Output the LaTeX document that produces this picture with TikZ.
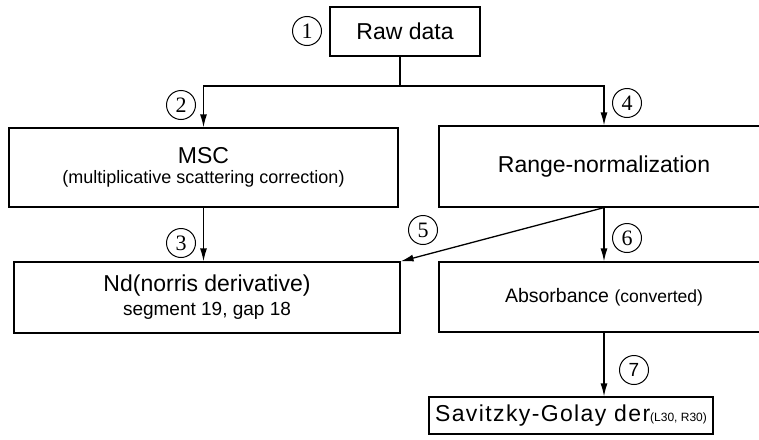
\documentclass[tikz,border=0pt]{standalone}
\usepackage{fontspec}
\setmainfont{Liberation Sans}
\newfontfamily\numfont{Liberation Serif}
\usetikzlibrary{arrows.meta}
\newcommand{\fsz}[1]{\fontsize{#1}{#1}\selectfont}
\tikzset{
  box/.style={draw,line width=1.2pt,inner sep=0pt,align=center},
  num/.style={draw,circle,line width=1pt,minimum size=29pt,inner sep=0pt,
    font=\numfont\fsz{22}},
  arr/.style={line width=1.3pt,-{Latex[length=13pt,width=7pt]}},
}
\begin{document}
\begin{tikzpicture}[x=1pt,y=-1pt]
\path[use as bounding box,clip] (0,0) rectangle (759,439);
% boxes
\node[box,minimum width=150pt,minimum height=49pt] (raw) at (405,31.5)
  {\fsz{23}Raw data};
\node[box,minimum width=389pt,minimum height=79pt] (msc) at (203.5,167.5)
  {\fsz{23}MSC\\[6pt]\fsz{18}(multiplicative scattering correction)};
\node[box,minimum width=330pt,minimum height=81pt] (rng) at (604,166.5)
  {\fsz{23}Range-normalization};
\node[box,minimum width=386pt,minimum height=71pt] (nd) at (207,297.5)
  {\fsz{23}Nd(norris derivative)\\[5pt]\fsz{19}segment 19, gap 18};
\node[box,minimum width=330pt,minimum height=70pt] (abs) at (604,297)
  {\fsz{19.5}Absorbance \fsz{17.5}(converted)};
\node[box,minimum width=284pt,minimum height=37pt] (sg) at (571,415.5)
  {{\fsz{23}\addfontfeature{LetterSpace=6}Savitzky-Golay der}{\fsz{12}(L30, R30)}};
% connectors
\coordinate (bus) at (400,86);
\draw[line width=1.3pt] (raw.south -| bus) -- (bus);
\draw[arr] (bus) -| (msc.north);
\draw[arr] (bus) -| (rng.north);
\draw[arr] (msc.south) -- (nd.north -| msc.south);
\draw[arr] (rng.south) -- (nd.north east);
\draw[arr] (rng.south) -- (abs.north);
\draw[arr] (abs.south) -- (sg.north -| abs.south);
% step numbers
\node[num] (c1) at (307,31) {1};
\node[num] (c2) at (181,105) {2};
\node[num] (c3) at (181,243) {3};
\node[num] (c4) at (627,103) {4};
\node[num] (c5) at (423,230) {5};
\node[num] (c6) at (627,238) {6};
\node[num,font=\fsz{19}] (c7) at (634,370) {7};
\end{tikzpicture}
\end{document}
